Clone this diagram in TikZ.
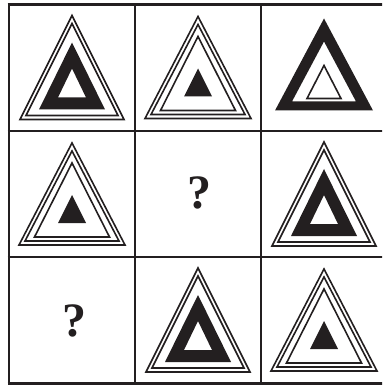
\documentclass[tikz,border=0pt]{standalone}
\usepackage{fontspec}
\setmainfont{Liberation Serif}
\definecolor{ink}{HTML}{231F20}
\tikzset{
  gridline/.style={draw=ink,line width=2.6pt},
  thin/.style={draw=ink,line width=1.6pt,line join=miter},
  qmark/.style={font=\bfseries\fontsize{48}{48}\selectfont,text=ink,inner sep=0pt}
}
% \tri{cx}{apexy}{basey}{halfw}
\newcommand{\tri}[4]{(#1,#2) -- (#1+#4,#3) -- (#1-#4,#3) -- cycle}
\begin{document}
\begin{tikzpicture}[x=1pt,y=-1pt]
\useasboundingbox (0,0) rectangle (382,387);
\begin{scope}
\clip (0,0) rectangle (382,387);
% grid
\foreach \xx in {9,135,261,387} \draw[gridline] (\xx,3.2) -- (\xx,384.8);
\foreach \yy in {4.5,131,257,383.5} \draw[gridline] (7.7,\yy) -- (390,\yy);
% Type A: cells (1,1) (2,3) (3,2)
\foreach \cx/\ty in {72/4.5, 324/131, 198/257}{
  \draw[thin] \tri{\cx}{\ty+11}{\ty+115}{52};
  \draw[thin] \tri{\cx}{\ty+19}{\ty+111}{46};
  \fill[ink,even odd rule] \tri{\cx}{\ty+38}{\ty+105}{33} \tri{\cx}{\ty+64}{\ty+93}{14};
}
% Type B: cells (1,2) (2,1) (3,3)
\foreach \cx/\ty in {198/4.5, 72/131, 324/257}{
  \draw[thin] \tri{\cx}{\ty+12}{\ty+114}{53};
  \draw[thin] \tri{\cx}{\ty+20}{\ty+110}{47};
  \draw[thin] \tri{\cx}{\ty+32}{\ty+106}{37.5};
  \fill[ink] \tri{\cx}{\ty+64}{\ty+92}{14};
}
% Type C: cell (1,3)
\fill[ink,even odd rule] \tri{324}{4.5+14}{4.5+106}{49} \tri{324}{4.5+37}{4.5+97}{32};
\draw[thin] \tri{324}{4.5+61}{4.5+94}{17};
\end{scope}
% question marks
\node[qmark] (q1) at (199,193) {?};
\node[qmark] (q2) at (74,321) {?};
\end{tikzpicture}
\end{document}
